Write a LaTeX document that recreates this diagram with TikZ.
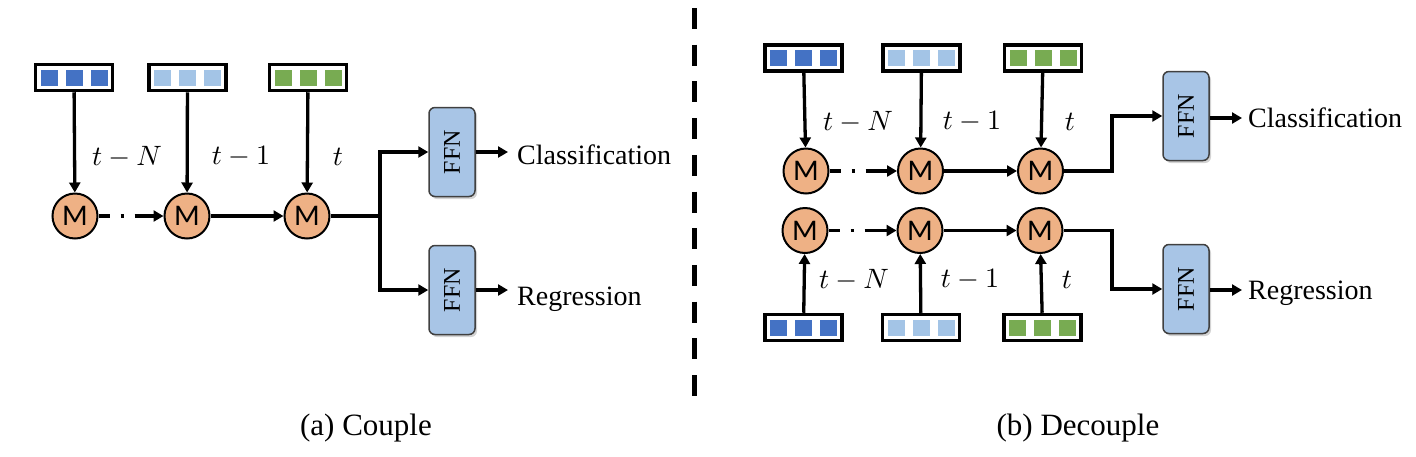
\documentclass[tikz,border=0pt]{standalone}
\usepackage[no-math]{fontspec}
\setmainfont{Liberation Serif}
\newfontfamily\msans{Carlito}
\usepackage{graphicx}
\usetikzlibrary{arrows.meta,shadows,calc}
\definecolor{cdb}{HTML}{4472C4}
\definecolor{clb}{HTML}{A3C4E6}
\definecolor{cgr}{HTML}{78AB52}
\definecolor{corange}{HTML}{EEB185}
\definecolor{cffn}{HTML}{A8C5E6}
\newcommand\tokbox[4]{%
  \node[tok] (#1) at (#2,#3) {};
  \node[sq=#4, xshift=-25pt] (#1s1) at (#1) {};
  \node[sq=#4] (#1s2) at (#1) {};
  \node[sq=#4, xshift=25pt] (#1s3) at (#1) {};
}
\newcommand\mlab[1]{\scalebox{2.8}{$#1$}}
\begin{document}
\begin{tikzpicture}[x=1pt,y=-1pt,
  tok/.style={draw, line width=3.5pt, fill=white, minimum width=77pt, minimum height=26pt, inner sep=0pt},
  sq/.style={minimum width=17pt, minimum height=16pt, inner sep=0pt, fill=#1},
  mnode/.style={circle, draw, line width=2pt, fill=corange, minimum size=45pt, inner sep=0pt, font=\msans\fontsize{30}{32}\selectfont},
  ffn/.style={rounded corners=6pt, draw=black!75, line width=1.5pt, fill=cffn, minimum width=46pt, minimum height=89pt, inner sep=0pt,
     drop shadow={shadow xshift=2pt, shadow yshift=-2.5pt, opacity=0.35}, font=\fontsize{24}{28}\selectfont},
  arr/.style={line width=3.3pt, -{Triangle[length=10pt,width=11pt]}},
  ddarr/.style={arr, dash pattern=on 11pt off 11pt on 3pt off 11pt on 80pt},
  plain/.style={line width=3.3pt},
  lbl/.style={inner sep=0pt},
  outtxt/.style={anchor=base west, inner sep=0pt, font=\fontsize{28}{34}\selectfont},
  captxt/.style={anchor=base, inner sep=0pt, font=\fontsize{31}{36}\selectfont},
  divider/.style={line width=5pt, dash pattern=on 21pt off 15.7pt}
]
\useasboundingbox (0,0) rectangle (1416,456);

% ---------- (a) Couple ----------
\tokbox{a1}{74}{77.5}{cdb}
\tokbox{a2}{187.5}{77.5}{clb}
\tokbox{a3}{308}{77.5}{cgr}
\node[mnode] (am1) at (75,216) {M};
\node[mnode] (am2) at (187,216) {M};
\node[mnode] (am3) at (307,216) {M};
\draw[arr] (a1) -- (am1);
\draw[arr] (a2) -- (am2);
\draw[arr] (a3) -- (am3);
\node[lbl] (la1) at (127,157) {\mlab{t-N}};
\node[lbl] (la2) at (241,157) {\mlab{t-1}};
\node[lbl] (la3) at (338,157) {\mlab{t}};
\draw[ddarr] (am1) -- (am2);
\draw[arr] (am2) -- (am3);
\node[ffn] (fa1) at (452,152) {\rotatebox{90}{FFN}};
\node[ffn] (fa2) at (452,290) {\rotatebox{90}{FFN}};
\coordinate (ja) at (380,216);
\draw[plain] (am3) -- (ja);
\draw[arr] (ja) |- (fa1);
\draw[arr] (ja) |- (fa2);
\coordinate (oa1) at (508,152);
\coordinate (oa2) at (508,290);
\draw[arr] (fa1) -- (oa1);
\draw[arr] (fa2) -- (oa2);
\node[outtxt] (ta1) at (517,164) {Classification};
\node[outtxt] (ta2) at (517,305) {Regression};
\node[captxt] (capa) at (366,435) {(a) Couple};

% ---------- divider ----------
\coordinate (dtop) at (694,8);
\coordinate (dbot) at (694,397);
\draw[divider] (dtop) -- (dbot);

% ---------- (b) Decouple ----------
\tokbox{b1}{803.5}{58}{cdb}
\tokbox{b2}{921.5}{58}{clb}
\tokbox{b3}{1043}{58}{cgr}
\node[mnode] (bm1) at (806,171) {M};
\node[mnode] (bm2) at (920.5,171) {M};
\node[mnode] (bm3) at (1040.5,171) {M};
\draw[arr] (b1) -- (bm1);
\draw[arr] (b2) -- (bm2);
\draw[arr] (b3) -- (bm3);
\node[lbl] (lb1) at (858,122) {\mlab{t-N}};
\node[lbl] (lb2) at (972,122) {\mlab{t-1}};
\node[lbl] (lb3) at (1070,122) {\mlab{t}};
\draw[ddarr] (bm1) -- (bm2);
\draw[arr] (bm2) -- (bm3);

\node[mnode] (cm1) at (805,230.5) {M};
\node[mnode] (cm2) at (920,230.5) {M};
\node[mnode] (cm3) at (1040,230.5) {M};
\tokbox{c1}{803.5}{327.5}{cdb}
\tokbox{c2}{921}{327.5}{clb}
\tokbox{c3}{1042.5}{327.5}{cgr}
\draw[arr] (c1) -- (cm1);
\draw[arr] (c2) -- (cm2);
\draw[arr] (c3) -- (cm3);
\node[lbl] (lc1) at (854,280) {\mlab{t-N}};
\node[lbl] (lc2) at (970,280) {\mlab{t-1}};
\node[lbl] (lc3) at (1067,280) {\mlab{t}};
\draw[ddarr] (cm1) -- (cm2);
\draw[arr] (cm2) -- (cm3);

\node[ffn] (fb1) at (1186,116) {\rotatebox{90}{FFN}};
\node[ffn] (fb2) at (1186,289) {\rotatebox{90}{FFN}};
\coordinate (jb1) at (1112,171);
\coordinate (jb2) at (1112,230.5);
\draw[arr] (bm3) -- (jb1) |- (fb1);
\draw[arr] (cm3) -- (jb2) |- (fb2);
\coordinate (ob1) at (1242,118);
\coordinate (ob2) at (1242,290);
\draw[arr] (fb1.east |- ob1) -- (ob1);
\draw[arr] (fb2.east |- ob2) -- (ob2);
\node[outtxt] (tb1) at (1248,127) {Classification};
\node[outtxt] (tb2) at (1248,299) {Regression};
\node[captxt] (capb) at (1078,435) {(b) Decouple};
\end{tikzpicture}
\end{document}
